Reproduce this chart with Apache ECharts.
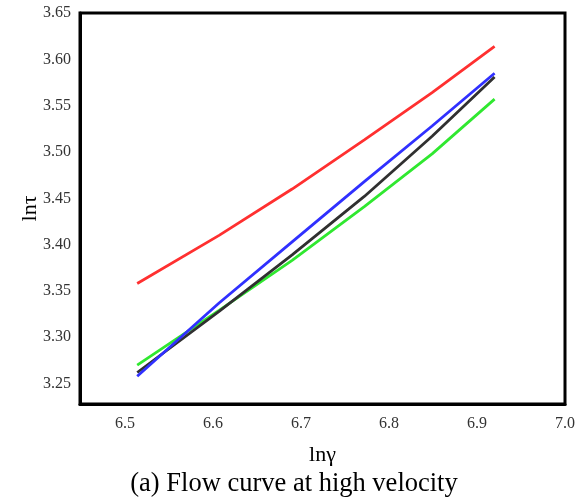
<!DOCTYPE html>
<html>
<head>
<meta charset="utf-8">
<script src="https://cdn.jsdelivr.net/npm/echarts@6/dist/echarts.min.js"></script>
<style>html,body{margin:0;padding:0;background:#fff;}#c{width:588px;height:499px;}</style>
</head>
<body>
<div id="c"></div>
<script>
const xValues = [6.514, 6.607, 6.690, 6.772, 6.849, 6.920];
const redSeries = [3.358, 3.410, 3.460, 3.513, 3.564, 3.614];
const blueSeries = [3.258, 3.337, 3.403, 3.468, 3.528, 3.585];
const blackSeries = [3.262, 3.328, 3.389, 3.452, 3.517, 3.581];
const greenSeries = [3.270, 3.329, 3.383, 3.441, 3.498, 3.557];
const xTicks = [6.5, 6.6, 6.7, 6.8, 6.9, 7.0];
const yTicks = [3.25, 3.30, 3.35, 3.40, 3.45, 3.50, 3.55, 3.60, 3.65];

function pairs(ys) { return xValues.map((x, i) => [x, ys[i]]); }

const labelFont = { fontFamily: 'Liberation Serif', fontSize: 16, color: '#333' };
const chart = echarts.init(document.getElementById('c'));
chart.setOption({
  animation: false,
  backgroundColor: '#fff',
  title: {
    text: '(a) Flow curve at high velocity',
    left: 'center', top: 466,
    textStyle: { fontFamily: 'Liberation Serif', fontSize: 26.5, fontWeight: 'normal', color: '#000' }
  },
  grid: { left: 80, top: 13, right: 23, bottom: 95, show: true, borderColor: '#000', borderWidth: 3, backgroundColor: 'transparent' },
  xAxis: {
    type: 'value', min: 6.449, max: 7.0,
    name: 'lnγ', nameLocation: 'middle', nameGap: 40, nameMoveOverlap: false,
    nameTextStyle: { fontFamily: 'Liberation Serif', fontSize: 22, color: '#000' },
    axisLine: { show: true, lineStyle: { color: '#000', width: 3 } },
    axisTick: { show: false },
    splitLine: { show: false },
    axisLabel: Object.assign({ margin: 12, customValues: xTicks, formatter: v => v.toFixed(1) }, labelFont)
  },
  yAxis: {
    type: 'value', min: 3.228, max: 3.65,
    name: 'lnτ', nameLocation: 'middle', nameGap: 39, nameRotate: 90, nameMoveOverlap: false,
    nameTextStyle: { fontFamily: 'Liberation Serif', fontSize: 22, color: '#000' },
    axisLine: { show: true, lineStyle: { color: '#000', width: 3 } },
    axisTick: { show: false },
    splitLine: { show: false },
    axisLabel: Object.assign({ margin: 9, customValues: yTicks, formatter: v => v.toFixed(2) }, labelFont)
  },
  series: [
    { type: 'line', data: pairs(redSeries), showSymbol: false, lineStyle: { color: '#ff3030', width: 2.8 }, itemStyle: { color: '#ff3030' } },
    { type: 'line', data: pairs(greenSeries), showSymbol: false, lineStyle: { color: '#30e830', width: 2.8 }, itemStyle: { color: '#30e830' } },
    { type: 'line', data: pairs(blackSeries), showSymbol: false, lineStyle: { color: '#303030', width: 2.8 }, itemStyle: { color: '#303030' } },
    { type: 'line', data: pairs(blueSeries), showSymbol: false, lineStyle: { color: '#3030ff', width: 2.8 }, itemStyle: { color: '#3030ff' } }
  ]
});
</script>
</body>
</html>
